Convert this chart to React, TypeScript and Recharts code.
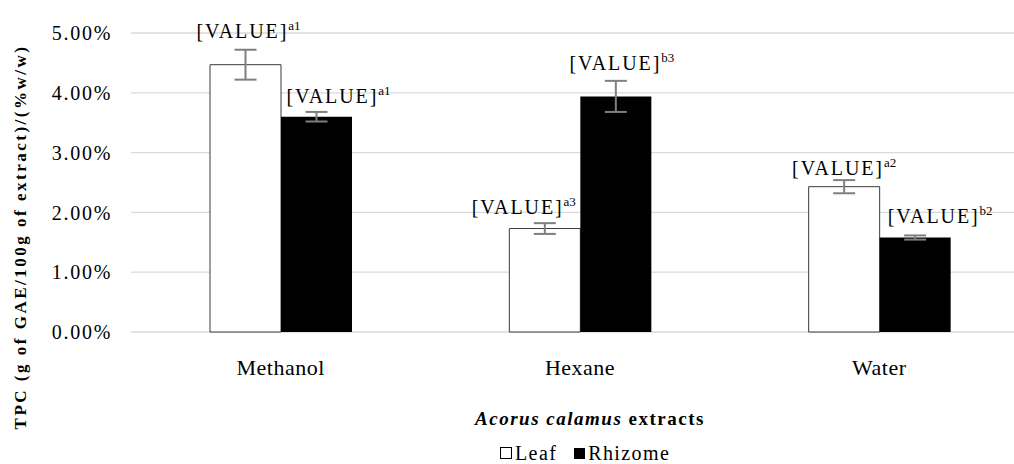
import { BarChart, Bar, XAxis, YAxis, CartesianGrid, ErrorBar, LabelList, Legend } from 'recharts'

const categories = ['Methanol', 'Hexane', 'Water']
const leafValues = [4.47, 1.73, 2.43]
const leafErrors = [0.25, 0.09, 0.11]
const rhizomeValues = [3.6, 3.94, 1.58]
const rhizomeErrors = [0.08, 0.26, 0.035]
const leafLetters = ['a1', 'a3', 'a2']
const rhizomeLetters = ['a1', 'b3', 'b2']
const yTicks = [0, 1, 2, 3, 4, 5]

const FONT = '"Liberation Serif", "Times New Roman", serif'

// labels were placed by hand in the original, so nudge them a bit
const leafNudgeX = [3, -21, 0]
const leafNudgeY = [12, 9, 5]
const rhizomeNudgeX = [22, 6, 25]
const rhizomeNudgeY = [9, 11, 12]

const data = categories.map((name, i) => ({
  name,
  leaf: leafValues[i],
  leafErr: leafErrors[i],
  rhizome: rhizomeValues[i],
  rhizomeErr: rhizomeErrors[i],
}))

function makeLabel(errors: number[], letters: string[], nudgeX: number[], nudgeY: number[]) {
  return (props: any) => {
    const { x, y, width, height, value, index } = props
    const i = index ?? 0
    const ppu = Number(height) / Number(value)
    const errTop = Number(y) - errors[i] * ppu
    const cx = Number(x) + Number(width) / 2 + nudgeX[i]
    return (
      <text
        x={cx}
        y={errTop - nudgeY[i]}
        textAnchor="middle"
        style={{ fontFamily: FONT }}
        fontSize={20}
        letterSpacing={1.9}
        fill="#000"
      >
        <tspan>[VALUE]</tspan>
        <tspan fontSize={13} dy={-8} letterSpacing={0}>
          {letters[i]}
        </tspan>
      </text>
    )
  }
}

function LegendContent() {
  const item = { display: 'flex', alignItems: 'center' } as const
  return (
    <div style={{ display: 'flex', alignItems: 'center', fontFamily: FONT, fontSize: 20, lineHeight: '20px', color: '#000', letterSpacing: 1.4, whiteSpace: 'nowrap' }}>
      <div style={item}>
        <span style={{ display: 'inline-block', width: 10, height: 10, border: '1px solid #000', background: '#fff', marginRight: 3 }} />
        <span>Leaf</span>
      </div>
      <div style={{ ...item, marginLeft: 17 }}>
        <span style={{ display: 'inline-block', width: 11, height: 11, background: '#000', marginRight: 3 }} />
        <span>Rhizome</span>
      </div>
    </div>
  )
}

export default function App() {
  return (
    <div style={{ position: 'absolute', left: 0, top: 0, width: 1014, height: 464, overflow: 'hidden', background: '#fff', fontFamily: FONT }}>
      <BarChart
        width={1040}
        height={464}
        data={data}
        margin={{ top: 33, right: 11, bottom: 0, left: 0 }}
        barGap={0}
        style={{ fontFamily: FONT }}
      >
        <CartesianGrid vertical={false} stroke="#d9d9d9" strokeWidth={1.3} />
        <XAxis
          dataKey="name"
          height={132}
          axisLine={false}
          tickLine={false}
          tickMargin={21}
          tick={{ fill: '#000', fontSize: 22, fontFamily: FONT, letterSpacing: 0.5 }}
          label={{
            content: () => (
              <text x={590} y={425} textAnchor="middle" style={{ fontFamily: FONT }} fontSize={19} fontWeight="bold" letterSpacing={1.5} fill="#000">
                <tspan fontStyle="italic">Acorus calamus</tspan>
                <tspan> extracts</tspan>
              </text>
            ),
          }}
        />
        <YAxis
          width={131}
          domain={[0, 5]}
          ticks={yTicks}
          axisLine={false}
          tickLine={false}
          tickMargin={13}
          tickFormatter={(v: number) => v.toFixed(2) + '%'}
          tick={{ fill: '#000', fontSize: 20, fontFamily: FONT, letterSpacing: 1.7 }}
          label={{
            content: () => (
              <text
                x={20}
                y={237}
                transform="rotate(-90 20 237)"
                textAnchor="middle"
                dominantBaseline="central"
                style={{ fontFamily: FONT }}
                fontSize={17}
                fontWeight="bold"
                letterSpacing={2.5}
                fill="#000"
              >
                TPC (g of GAE/100g of extract)/(%w/w)
              </text>
            ),
          }}
        />
        <Legend
          layout="horizontal"
          verticalAlign="middle"
          align="center"
          content={() => <LegendContent />}
          wrapperStyle={{ left: 500, top: 443, width: 220, height: 20 }}
        />
        <Bar dataKey="leaf" name="Leaf" barSize={71} fill="#fff" stroke="#3a3a3a" strokeWidth={1} isAnimationActive={false}>
          <ErrorBar dataKey="leafErr" width={11} stroke="#7f7f7f" strokeWidth={2} direction="y" isAnimationActive={false} />
          <LabelList dataKey="leaf" content={makeLabel(leafErrors, leafLetters, leafNudgeX, leafNudgeY)} />
        </Bar>
        <Bar dataKey="rhizome" name="Rhizome" barSize={71} fill="#000" isAnimationActive={false}>
          <ErrorBar dataKey="rhizomeErr" width={11} stroke="#7f7f7f" strokeWidth={2} direction="y" isAnimationActive={false} />
          <LabelList dataKey="rhizome" content={makeLabel(rhizomeErrors, rhizomeLetters, rhizomeNudgeX, rhizomeNudgeY)} />
        </Bar>
      </BarChart>
    </div>
  )
}
